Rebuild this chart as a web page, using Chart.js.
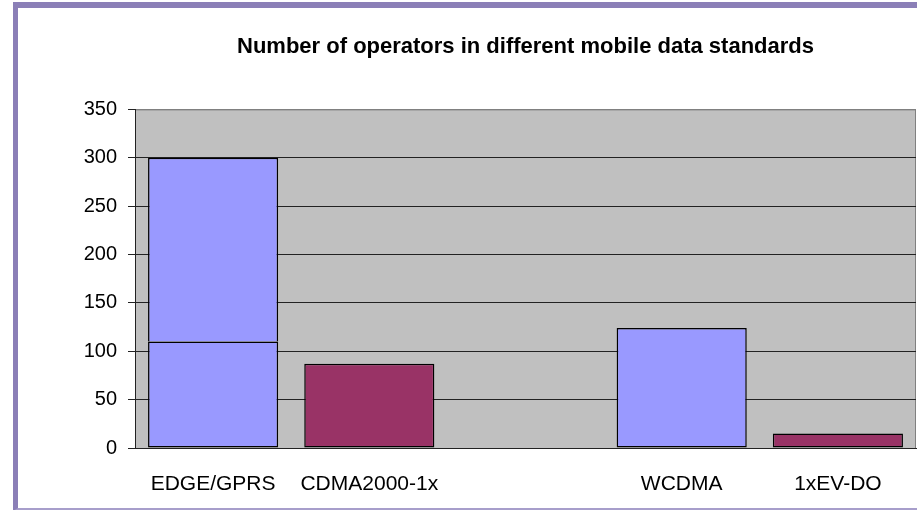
<!DOCTYPE html>
<html>
<head>
<meta charset="utf-8">
<script src="https://cdn.jsdelivr.net/npm/chart.js@4"></script>
<style>
  html, body { margin: 0; padding: 0; background: #ffffff; }
  #wrap { position: relative; width: 917px; height: 510px; overflow: hidden; }
  #frame {
    position: absolute; left: 13px; top: 2px; width: 920px; height: 500px;
    border-left: 5px solid #8B7FB7; border-top: 6px solid #8B7FB7; border-bottom: 3px solid #A79ECB;
  }
  #myChart { position: absolute; left: 0; top: 0; }
</style>
</head>
<body>
<div id="wrap">
  <div id="frame"></div>
  <canvas id="myChart" width="917" height="510"></canvas>
</div>
<script>
// Data
var categories = ['EDGE/GPRS', 'CDMA2000-1x', '', 'WCDMA', '1xEV-DO'];
var baseValues = [110, 87, null, 124, 15];     // bottom part of each bar
var upperValues = [190, null, null, null, null]; // rest of EDGE/GPRS bar (up to 300)
var barColors = ['#9999FF', '#993366', '#9999FF', '#9999FF', '#993366'];
var yTicks = [0, 50, 100, 150, 200, 250, 300, 350];

var FONT = '"Liberation Sans", Arial, sans-serif';

// grey plot background with grey top/right border
var plotBackground = {
    id: 'plotBackground',
    beforeDraw: function(chart) {
        var a = chart.chartArea;
        var c = chart.ctx;
        c.save();
        c.fillStyle = '#C0C0C0';
        c.fillRect(a.left, a.top, a.right - a.left, a.bottom - a.top);
        c.strokeStyle = '#808080';
        c.lineWidth = 1;
        c.beginPath();
        c.moveTo(a.left, a.top + 0.5);
        c.lineTo(a.right - 0.5, a.top + 0.5);
        c.lineTo(a.right - 0.5, a.bottom);
        c.stroke();
        c.restore();
    }
};

var ctx = document.getElementById('myChart').getContext('2d');
var myChart = new Chart(ctx, {
    type: 'bar',
    data: {
        labels: categories,
        datasets: [{
            label: 'base',
            data: baseValues,
            backgroundColor: barColors,
            borderColor: '#000000',
            borderWidth: 1.5,
            borderSkipped: false,
            categoryPercentage: 1,
            barPercentage: 0.833
        }, {
            label: 'upper',
            data: upperValues,
            backgroundColor: barColors,
            borderColor: '#000000',
            borderWidth: 1.5,
            borderSkipped: 'bottom',   // base bar already draws the dividing line
            categoryPercentage: 1,
            barPercentage: 0.833
        }]
    },
    options: {
        responsive: false,
        animation: false,
        layout: { padding: { top: 0, right: 1, bottom: 0, left: 0 } },
        plugins: {
            legend: { display: false },
            tooltip: { enabled: false },
            title: {
                display: true,
                fullSize: false,
                text: 'Number of operators in different mobile data standards',
                color: '#000000',
                font: { family: FONT, size: 22, weight: 'bold' },
                padding: { top: 34, bottom: 49 }
            }
        },
        scales: {
            x: {
                stacked: true,
                grid: { display: false, drawTicks: false },
                border: { display: true, color: '#222222', width: 1 },
                ticks: { color: '#000000', font: { family: FONT, size: 21 }, padding: 24, maxRotation: 0, autoSkip: false },
                afterFit: function(scale) { scale.height = 62; }
            },
            y: {
                stacked: true,
                min: 0,
                max: 350,
                afterBuildTicks: function(scale) {
                    scale.ticks = yTicks.map(function(v) { return { value: v }; });
                },
                grid: {
                    color: function(c) { return c.tick && c.tick.value === 350 ? '#808080' : '#222222'; },
                    tickColor: '#222222',
                    tickLength: 7,
                    lineWidth: 1
                },
                border: { display: true, color: '#222222', width: 1 },
                ticks: { color: '#000000', font: { family: FONT, size: 20 }, padding: 11 },
                afterFit: function(scale) { scale.width = 135; }
            }
        }
    },
    plugins: [plotBackground]
});
</script>
</body>
</html>
